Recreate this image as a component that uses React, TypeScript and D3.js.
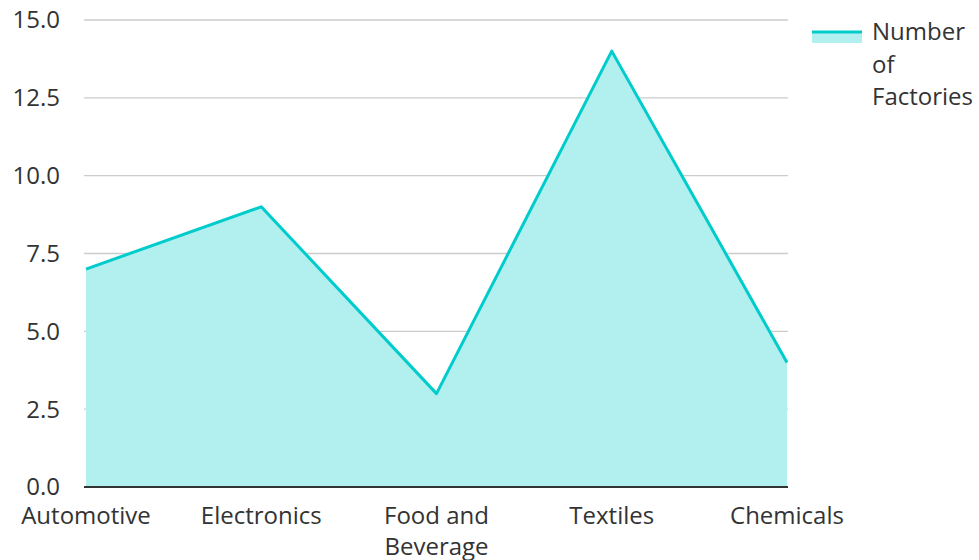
import React from 'react'
import * as d3 from 'd3'

const categories = ['Automotive', 'Electronics', 'Food and Beverage', 'Textiles', 'Chemicals']
const categoryLines = [['Automotive'], ['Electronics'], ['Food and', 'Beverage'], ['Textiles'], ['Chemicals']]
const factories = [7, 9, 3, 14, 4]
const yTicks = [0, 2.5, 5, 7.5, 10, 12.5, 15]
const seriesName = ['Number', 'of', 'Factories']

const W = 979
const H = 560
const left = 86
const right = 787
const top = 20
const bottom = 487
const font = '"Open Sans", "Noto Sans", sans-serif'
const fs = 24

export default function App() {
	const x = d3.scalePoint<string>().domain(categories).range([left, right])
	const y = d3.scaleLinear().domain([0, 15]).range([bottom, top])
	const data = categories.map((c, i) => ({ c, v: factories[i] }))

	const area = d3
		.area<{ c: string; v: number }>()
		.x((d) => x(d.c) as number)
		.y0(y(0))
		.y1((d) => y(d.v))
	const line = d3
		.line<{ c: string; v: number }>()
		.x((d) => x(d.c) as number)
		.y((d) => y(d.v))

	return (
		<svg width={W} height={H} style={{ position: 'absolute', left: 0, top: 0 }} fontFamily={font}>
			<rect width={W} height={H} fill="#fff" />
			{yTicks.map((t) => (
				<g key={t}>
					{t > 0 && <line x1={left - 2} x2={right + 1} y1={y(t)} y2={y(t)} stroke="#cccccc" strokeWidth={1.3} />}
					<text x={60} y={y(t)} dy="0.35em" textAnchor="end" fontSize={fs} fill="#333">
						{t.toFixed(1)}
					</text>
				</g>
			))}
			<path d={area(data) as string} fill="#b2efef" />
			<path d={line(data) as string} fill="none" stroke="#00cccc" strokeWidth={3} strokeLinejoin="round" />
			<line x1={left - 2} x2={right + 1} y1={bottom} y2={bottom} stroke="#333" strokeWidth={2} />
			{categories.map((c, i) => (
				<text key={c} x={x(c)} y={bottom + 37} textAnchor="middle" fontSize={fs} fill="#333">
					{categoryLines[i].map((l, j) => (
						<tspan key={j} x={x(c)} dy={j === 0 ? 0 : 31}>
							{l}
						</tspan>
					))}
				</text>
			))}
			<rect x={812} y={32} width={50} height={11} fill="#b2efef" />
			<line x1={812} x2={862} y1={32} y2={32} stroke="#00cccc" strokeWidth={3} />
			<text x={872} y={40} fontSize={fs} fill="#333">
				{seriesName.map((l, j) => (
					<tspan key={j} x={872} dy={j === 0 ? 0 : 32.5}>
						{l}
					</tspan>
				))}
			</text>
		</svg>
	)
}
